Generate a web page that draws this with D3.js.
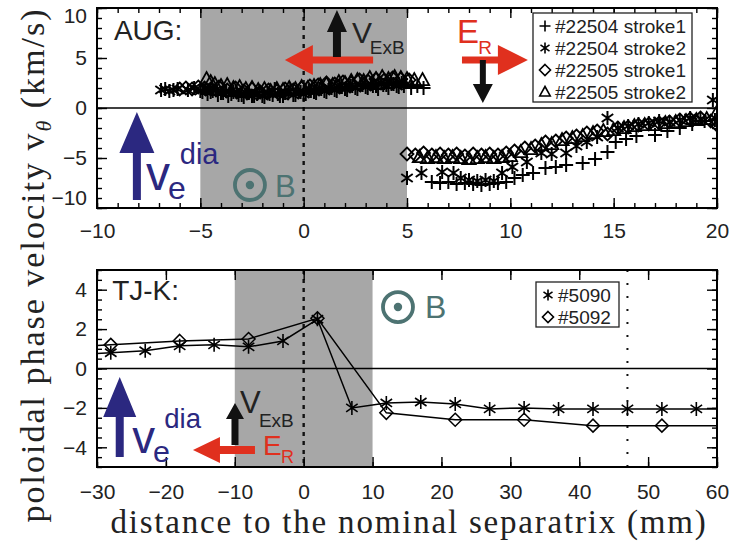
<!DOCTYPE html>
<html>
<head>
<meta charset="utf-8">
<script src="https://cdn.jsdelivr.net/npm/d3@7"></script>
<style>
  body { margin: 0; background: #fff; }
  svg { display: block; }
</style>
</head>
<body>
<div id="chart"></div>
<script>
// ---- AUG (top panel): [distance mm, velocity km/s]
const aug22504s1 = [
  [-4.9,1.6],[-4.65,1.4],[-4.4,1.7],[-4.15,1.3],[-3.9,1.5],[-3.65,1.2],[-3.4,1.6],[-3.15,1.3],[-2.9,1.1],
  [-2.65,1.5],[-2.4,1.2],[-2.15,1.6],[-1.9,1.1],[-1.65,1.4],[-1.4,1.9],[-1.15,1.2],[-0.9,1.5],[-0.65,1.8],
  [-0.4,1.3],[-0.15,1.6],[0.1,1.4],[0.35,1.7],[0.6,1.5],[0.85,1.9],[1.1,1.6],[1.35,2.0],[1.6,1.7],
  [1.85,2.1],[2.1,1.8],[2.35,2.2],[2.6,1.9],[2.85,2.3],[3.1,2.0],[3.35,2.2],[3.6,1.9],[3.85,2.3],
  [4.1,2.0],[4.35,2.4],[4.6,2.1],[4.85,2.2],[5.2,2.0],[5.5,2.2],[5.8,2.0],
  [6.2,-7.4],[6.6,-7.5],[7.0,-7.4],[7.4,-7.6],[7.8,-7.5],[8.2,-7.6],[8.6,-7.7],[9.0,-7.6],[9.4,-7.5],
  [9.8,-7.4],[10.2,-7.0],[10.6,-6.7],[11.1,-6.5],[11.7,-6.0],[12.2,-5.9],[12.7,-5.7],[13.5,-5.5],
  [14.1,-5.1],[14.7,-4.4],[15.1,-3.4],[15.6,-3.1],[16.1,-2.8],[17.0,-2.7],[17.6,-2.3],[18.2,-2.0],
  [18.8,-1.6],[19.4,-1.3],[19.9,-1.2]
];
const aug22504s2 = [
  [-6.9,1.8],[-6.7,1.9],[-6.5,1.7],[-6.3,1.8],[-6.1,1.9],[-5.6,1.8],[-5.3,2.0],[-5.0,1.7],[-4.75,1.9],
  [-4.5,1.6],[-4.25,1.8],[-4.0,1.5],[-3.75,1.7],[-3.5,1.4],[-3.25,1.6],[-3.0,1.3],[-2.75,1.5],[-2.5,1.2],
  [-2.25,1.4],[-2.0,1.2],[-1.75,1.5],[-1.5,1.3],[-1.25,1.4],[-1.0,1.2],[-0.75,1.5],[-0.5,1.3],[-0.25,1.6],
  [0,1.4],[0.25,1.7],[0.5,1.6],[0.75,1.9],[1.0,1.7],[1.25,2.0],[1.5,1.8],[1.75,2.1],[2.0,1.9],[2.25,2.2],
  [2.5,2.0],[2.75,2.3],[3.0,2.1],[3.25,2.4],[3.5,2.2],[3.75,2.5],[4.0,2.3],[4.25,2.4],[4.5,2.2],[4.75,2.5],
  [5.0,-7.0],[5.7,-6.5],[6.7,-6.4],[7.25,-6.5],[7.6,-7.0],[8.0,-7.2],[8.4,-7.3],[8.8,-7.2],[9.2,-7.3],
  [9.6,-6.5],[10.1,-5.9],[10.8,-5.4],[11.5,-4.5],[12.0,-4.6],[12.7,-4.5],[13.2,-3.8],[13.7,-3.4],
  [14.2,-2.9],[14.7,-1.0],[15.2,-2.0],[15.7,-1.8],[16.2,-1.6],[16.7,-1.5],[17.2,-1.3],[17.7,-1.4],
  [18.2,-1.2],[18.7,-1.0],[19.2,-1.1],[19.8,0.8]
];
const aug22505s1 = [
  [-6.0,1.9],[-5.7,2.0],[-5.4,1.9],[-5.1,2.1],[-4.8,2.0],[-4.5,1.9],[-4.1,2.1],[-3.7,1.8],[-3.3,2.0],
  [-2.9,1.7],[-2.5,1.9],[-2.1,1.6],[-1.7,1.8],[-1.3,1.7],[-0.9,1.9],[-0.5,1.8],[-0.1,2.0],[0.3,2.2],
  [0.7,2.3],[1.1,2.5],[1.5,2.4],[1.9,2.6],[2.3,2.5],[2.7,2.8],[3.1,2.7],[3.5,2.9],[3.9,2.8],[4.3,3.0],
  [4.7,2.9],[5.1,2.8],
  [5.0,-4.6],[5.4,-4.7],[5.8,-4.5],[6.2,-4.7],[6.6,-4.6],[7.0,-4.7],[7.4,-4.6],[7.8,-4.8],[8.2,-4.6],
  [8.6,-4.7],[9.0,-4.6],[9.4,-4.7],[9.8,-4.5],[10.2,-4.3],[10.7,-4.0],[11.2,-3.8],[11.7,-3.4],
  [12.2,-3.3],[12.7,-3.0],[13.2,-2.8],[13.7,-2.5],[14.2,-2.3],[14.7,-2.6],[15.2,-2.0],[15.7,-1.9],
  [16.2,-1.7],[16.7,-1.6],[17.2,-1.5],[17.7,-1.4],[18.2,-1.2],[18.7,-1.1],[19.2,-1.0],[19.7,-1.3],
  [19.95,-1.6]
];
const aug22505s2 = [
  [-4.7,2.9],[-4.5,2.6],[-4.3,2.4],[-4.0,2.2],[-3.7,2.3],[-3.4,2.0],[-3.1,2.1],[-2.8,1.9],[-2.5,2.0],
  [-2.2,1.8],[-1.9,1.9],[-1.6,1.7],[-1.3,1.9],[-1.0,1.8],[-0.7,2.0],[-0.4,1.9],[-0.1,2.1],[0.2,2.0],
  [0.5,2.2],[0.8,2.3],[1.1,2.4],[1.4,2.3],[1.7,2.6],[2.0,2.5],[2.3,2.7],[2.6,2.8],[2.9,2.7],[3.2,3.0],
  [3.5,2.9],[3.8,3.1],[4.1,2.9],[4.4,3.1],[4.7,3.0],[5.0,2.9],[5.35,2.8],[5.75,2.8],
  [5.6,-4.9],[6.0,-5.0],[6.4,-4.9],[6.8,-5.0],[7.2,-4.9],[7.6,-5.0],[8.0,-5.1],[8.4,-5.0],[8.8,-4.9],
  [9.2,-5.0],[9.6,-4.9],[10.0,-4.8],[10.5,-4.4],[11.0,-4.1],[11.5,-3.7],[12.0,-3.6],[12.5,-3.2],
  [13.0,-3.0],[13.5,-2.8],[14.0,-2.5],[14.5,-2.3],[15.0,-2.2],[15.5,-2.0],[16.0,-1.8],[16.5,-1.7],
  [17.0,-1.7],[17.5,-1.5],[18.0,-1.4],[18.5,-1.3],[19.0,-1.2],[19.5,-1.1],[19.95,-0.6]
];
const augLabels = ["#22504 stroke1", "#22504 stroke2", "#22505 stroke1", "#22505 stroke2"];

// ---- TJ-K (bottom panel); first/last points lie outside the plotted range
const tjk5090 = [
  [-33,0.7],[-28,0.8],[-23,0.9],[-18,1.15],[-13,1.2],[-8,1.1],[-3,1.4],[2,2.5],[7,-2.0],[12,-1.75],
  [17,-1.7],[22,-1.8],[27,-2.05],[32,-2.0],[37,-2.05],[42,-2.05],[47,-2.05],[52,-2.05],[57,-2.05],[62,-2.05]
];
const tjk5092 = [
  [-38,1.05],[-28,1.2],[-18,1.4],[-8,1.5],[2,2.55],[12,-2.25],[22,-2.6],[32,-2.6],[42,-2.9],[52,-2.9],[62,-2.9]
];
const tjkLabels = ["#5090", "#5092"];

const augXTicks = [-10, -5, 0, 5, 10, 15, 20];
const augYTicks = [-10, -5, 0, 5, 10];
const tjkXTicks = [-30, -20, -10, 0, 10, 20, 30, 40, 50, 60];
const tjkYTicks = [-4, -2, 0, 2, 4];

const W = 744, H = 547;
const sans = "'Liberation Sans', Arial, sans-serif";
const serif = "'Liberation Serif', 'Times New Roman', serif";
const blue = "#2b2880", red = "#e0301e", teal = "#4d7372", shade = "#a7a7a7";

const svg = d3.select("#chart").append("svg")
  .attr("width", W).attr("height", H);

const sym = {
  plus: r => `M${-r},0H${r}M0,${-r}V${r}`,
  star: r => `M0,${-r}V${r}M${-r*0.82},${-r*0.57}L${r*0.82},${r*0.57}M${-r*0.82},${r*0.57}L${r*0.82},${-r*0.57}`,
  diamond: r => `M0,${-r}L${r},0L0,${r}L${-r},0Z`,
  tri: r => `M0,${-r}L${r*0.95},${r*0.72}L${-r*0.95},${r*0.72}Z`
};

function fmt(d) { return d < 0 ? "\u2212" + Math.abs(d) : String(d); }

function arrow(g, x1, y1, x2, y2, o) {
  const dx = x2 - x1, dy = y2 - y1, L = Math.hypot(dx, dy);
  const ux = dx / L, uy = dy / L, nx = -uy, ny = ux;
  const hb = L - o.headL, s = o.shaft / 2, h = o.headW / 2;
  const pts = [
    [x1 + nx*s, y1 + ny*s],
    [x1 + ux*hb + nx*s, y1 + uy*hb + ny*s],
    [x1 + ux*hb + nx*h, y1 + uy*hb + ny*h],
    [x2, y2],
    [x1 + ux*hb - nx*h, y1 + uy*hb - ny*h],
    [x1 + ux*hb - nx*s, y1 + uy*hb - ny*s],
    [x1 - nx*s, y1 - ny*s]
  ];
  g.append("polygon").attr("points", pts.map(p => p.join(",")).join(" ")).attr("fill", o.color);
}

function panel(cfg) {
  const x = d3.scaleLinear().domain(cfg.xDomain).range([97, 717]);
  const y = d3.scaleLinear().domain(cfg.yDomain).range([cfg.bottom, cfg.top]);
  const g = svg.append("g");
  const id = "clip" + cfg.name;

  svg.append("clipPath").attr("id", id).append("rect")
    .attr("x", 97).attr("y", cfg.top).attr("width", 620).attr("height", cfg.bottom - cfg.top);

  g.append("rect")
    .attr("x", x(cfg.shade[0])).attr("y", cfg.top)
    .attr("width", x(cfg.shade[1]) - x(cfg.shade[0])).attr("height", cfg.bottom - cfg.top)
    .attr("fill", shade);

  cfg.dashed.forEach(v => {
    g.append("line")
      .attr("x1", x(v.at)).attr("x2", x(v.at)).attr("y1", cfg.top).attr("y2", cfg.bottom)
      .attr("stroke", "#111").attr("stroke-width", v.w).attr("stroke-dasharray", v.dash);
  });

  g.append("line")
    .attr("x1", 97).attr("x2", 717).attr("y1", y(0)).attr("y2", y(0))
    .attr("stroke", "#000").attr("stroke-width", 1.6);

  const data = g.append("g").attr("clip-path", `url(#${id})`);
  cfg.series.forEach(s => {
    if (s.line) {
      data.append("path").datum(s.values)
        .attr("d", d3.line().x(d => x(d[0])).y(d => y(d[1])))
        .attr("fill", "none").attr("stroke", "#000").attr("stroke-width", 1.5);
    }
    data.selectAll(null).data(s.values).join("path")
      .attr("transform", d => `translate(${x(d[0])},${y(d[1])})`)
      .attr("d", sym[s.symbol](s.r))
      .attr("fill", "none").attr("stroke", "#000").attr("stroke-width", s.sw);
  });

  // axes with inward ticks
  const major = 10, minor = 5;
  const addAxis = (axisFn, scale, pos, ticks, size, labels, pad) => {
    const a = axisFn(scale).tickValues(ticks).tickSizeInner(-size).tickSizeOuter(0)
      .tickPadding(pad || 0).tickFormat(labels ? fmt : "");
    const ag = g.append("g").attr("transform", pos).call(a);
    ag.select(".domain").remove();
    ag.selectAll(".tick line").attr("stroke", "#000").attr("stroke-width", 1.4);
    ag.selectAll("text").attr("font-family", sans).attr("font-size", 21).attr("fill", "#222");
    return ag;
  };
  const xMinor = d3.range(cfg.xDomain[0], cfg.xDomain[1] + 1e-9, cfg.xMinor);
  const yMinor = d3.range(cfg.yDomain[0], cfg.yDomain[1] + 1e-9, cfg.yMinor);
  [[d3.axisBottom, `translate(0,${cfg.bottom})`], [d3.axisTop, `translate(0,${cfg.top})`]].forEach(([f, p], i) => {
    addAxis(f, x, p, xMinor, minor, false);
    addAxis(f, x, p, cfg.xTicks, major, i === 0, cfg.xPad);
  });
  [[d3.axisLeft, "translate(97,0)"], [d3.axisRight, "translate(717,0)"]].forEach(([f, p], i) => {
    addAxis(f, y, p, yMinor, minor, false);
    const ag = addAxis(f, y, p, cfg.yTicks, major, i === 0, 10);
    if (i === 0 && cfg.clampLabels) {
      ag.selectAll(".tick text").attr("dy", d => d === cfg.yDomain[1] ? "0.67em" : d === cfg.yDomain[0] ? "-0.17em" : "0.32em");
    }
  });

  g.append("rect")
    .attr("x", 97).attr("y", cfg.top).attr("width", 620).attr("height", cfg.bottom - cfg.top)
    .attr("fill", "none").attr("stroke", "#000").attr("stroke-width", 2);

  return { g, x, y };
}

// ---------- top panel (AUG)
const augPanel = panel({
  name: "aug", xDomain: [-10, 20], yDomain: [-10, 10], top: 8, bottom: 208,
  xTicks: augXTicks, yTicks: augYTicks, xMinor: 1, yMinor: 1, xPad: 15, clampLabels: true,
  shade: [-5, 5],
  dashed: [{ at: 0, w: 2.4, dash: "4,5" }],
  series: [
    { values: aug22504s1, symbol: "plus", r: 7, sw: 2 },
    { values: aug22504s2, symbol: "star", r: 7, sw: 2 },
    { values: aug22505s1, symbol: "diamond", r: 6.5, sw: 1.8 },
    { values: aug22505s2, symbol: "tri", r: 7, sw: 1.8 }
  ]
});

// ---------- bottom panel (TJ-K)
const tjkPanel = panel({
  name: "tjk", xDomain: [-30, 60], yDomain: [-5, 5], top: 270, bottom: 467,
  xTicks: tjkXTicks, yTicks: tjkYTicks, xMinor: 10, yMinor: 0.5, xPad: 17, clampLabels: false,
  shade: [-10, 10],
  dashed: [{ at: 0, w: 2.4, dash: "4,5" }, { at: 47, w: 2, dash: "2,11" }],
  series: [
    { values: tjk5090, symbol: "star", r: 7, sw: 1.6, line: true },
    { values: tjk5092, symbol: "diamond", r: 6.5, sw: 1.5, line: true }
  ]
});

// ---------- legends
function legend(g, x0, y0, w, labels, symbols) {
  const rowH = 22;
  g.append("rect").attr("x", x0).attr("y", y0).attr("width", w).attr("height", labels.length * rowH + 1)
    .attr("fill", "#fff").attr("stroke", "#222").attr("stroke-width", 1.3);
  labels.forEach((t, i) => {
    const cy = y0 + 13 + i * rowH;
    g.append("path").attr("transform", `translate(${x0 + 12},${cy})`)
      .attr("d", sym[symbols[i]](5.5)).attr("fill", "none").attr("stroke", "#000").attr("stroke-width", 1.6);
    g.append("text").attr("x", x0 + 22).attr("y", cy + 7).text(t)
      .attr("font-family", sans).attr("font-size", 19).attr("fill", "#222");
  });
}
legend(augPanel.g, 533, 13, 159, augLabels, ["plus", "star", "diamond", "tri"]);
legend(tjkPanel.g, 536, 282, 83, tjkLabels, ["star", "diamond"]);

// ---------- annotations
function txt(g, px, py, s, size, color, family) {
  return g.append("text").attr("x", px).attr("y", py).text(s)
    .attr("font-family", family || sans).attr("font-size", size).attr("fill", color);
}
function circB(g, cx, cy) {
  g.append("circle").attr("cx", cx).attr("cy", cy).attr("r", 15)
    .attr("fill", "none").attr("stroke", teal).attr("stroke-width", 3.8);
  g.append("circle").attr("cx", cx).attr("cy", cy).attr("r", 4.2).attr("fill", teal);
}
// v_e^dia as one text: big v, subscript e, superscript dia
function vdia(g, px, py, s) {
  g.append("text").attr("x", px).attr("y", py)
    .attr("font-family", sans).attr("fill", blue).attr("font-size", 48 * s)
    .call(t => {
      t.append("tspan").text("v");
      t.append("tspan").text("e").attr("font-size", 32 * s).attr("dx", -2 * s).attr("dy", 9 * s);
      t.append("tspan").text("dia").attr("font-size", 29 * s).attr("dx", -6 * s).attr("dy", -35 * s);
    });
}

{
  const { g, x, y } = augPanel;
  txt(g, x(-9.18), y(6.8), "AUG:", 28, "#222");
  arrow(g, x(3.36), y(4.8), x(-0.91), y(4.8), { shaft: 7, headW: 30, headL: 28, color: red });
  arrow(g, x(1.61), y(5.1), x(1.61), y(9.8), { shaft: 8, headW: 20, headL: 22, color: "#111" });
  txt(g, x(2.34), y(6.5), "V", 30, "#222");
  txt(g, x(3.2), y(5.4), "ExB", 19, "#222");
  txt(g, x(7.42), y(6.5), "E", 33, red);
  txt(g, x(8.45), y(5.4), "R", 19, red);
  arrow(g, x(7.66), y(4.8), x(10.85), y(4.8), { shaft: 7, headW: 30, headL: 30, color: red });
  arrow(g, x(8.67), y(4.8), x(8.67), y(0.5), { shaft: 6, headW: 20, headL: 19, color: "#111" });
  arrow(g, x(-8.07), y(-9.2), x(-8.07), y(-0.4), { shaft: 8, headW: 35, headL: 41, color: blue });
  vdia(g, x(-7.63), y(-8.2), 1);
  circB(g, x(-2.6), y(-7.7));
  txt(g, x(-1.39), y(-8.9), "B", 31, teal);
}
{
  const { g, x, y } = tjkPanel;
  txt(g, x(-27.8), y(3.48), "TJ-K:", 28, "#222");
  arrow(g, x(-26.7), y(-4.49), x(-26.7), y(-0.43), { shaft: 8, headW: 33, headL: 40, color: blue });
  vdia(g, x(-24.9), y(-4.29), 0.95);
  arrow(g, x(-9.97), y(-3.88), x(-9.97), y(-1.75), { shaft: 7, headW: 18, headL: 16, color: "#111" });
  txt(g, x(-9.25), y(-2.26), "V", 31, "#222");
  txt(g, x(-6.5), y(-2.95), "ExB", 19, "#222");
  arrow(g, x(-7.07), y(-4.14), x(-16.07), y(-4.14), { shaft: 8, headW: 26, headL: 27, color: red });
  txt(g, x(-5.9), y(-4.39), "E", 28, red);
  txt(g, x(-3.3), y(-4.8), "R", 18, red);
  circB(g, x(13.69), y(3.12));
  txt(g, x(17.6), y(2.56), "B", 32, teal);
}

// ---------- axis titles
svg.append("text")
  .attr("transform", "translate(44,265) rotate(-90)")
  .attr("text-anchor", "middle")
  .attr("font-family", serif).attr("font-size", 34).attr("letter-spacing", 2).attr("fill", "#222")
  .call(t => {
    t.append("tspan").text("poloidal phase velocity v");
    t.append("tspan").text("\u03b8").attr("font-style", "italic").attr("font-size", 22).attr("dy", 7);
    t.append("tspan").text(" (km/s)").attr("dy", -7);
  });
svg.append("text")
  .attr("x", 409).attr("y", 533).attr("text-anchor", "middle")
  .attr("font-family", serif).attr("font-size", 33).attr("letter-spacing", 1.8).attr("fill", "#222")
  .text("distance to the nominal separatrix (mm)");
</script>
</body>
</html>
